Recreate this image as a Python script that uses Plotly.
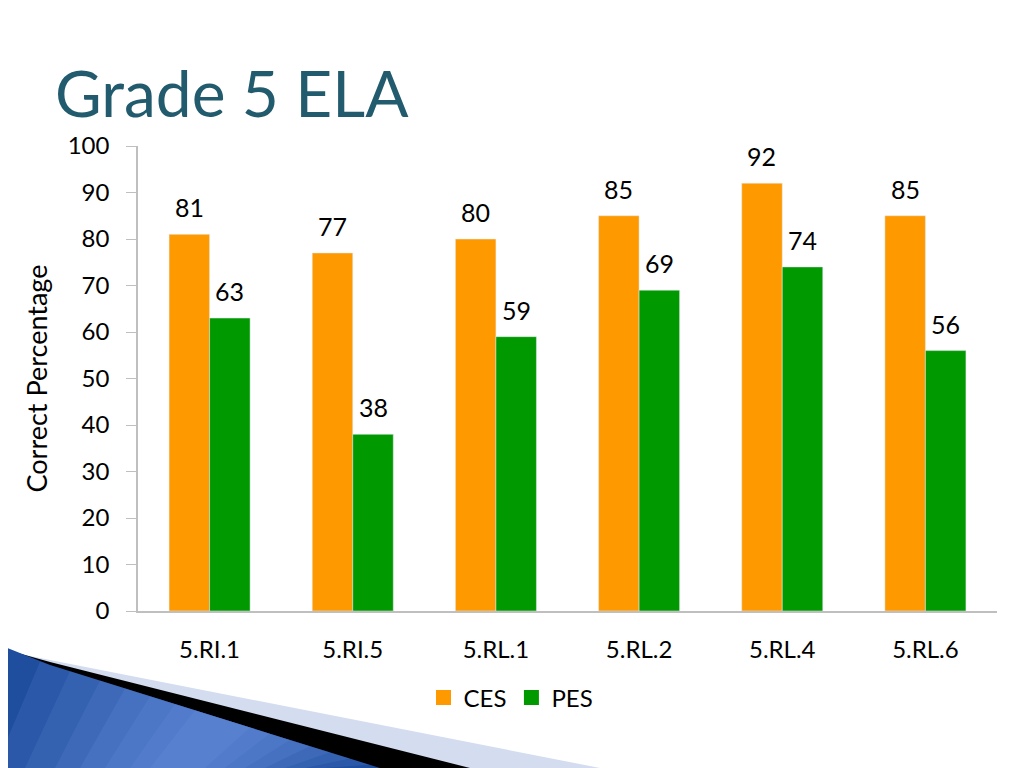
import plotly.graph_objects as go

# Datos del gráfico
estandares = ["5.RI.1", "5.RI.5", "5.RL.1", "5.RL.2", "5.RL.4", "5.RL.6"]
ces = [81, 77, 80, 85, 92, 85]
pes = [63, 38, 59, 69, 74, 56]

fuente = "Lato"
naranja = "#FF9900"
verde = "#009900"

# La página tiene 8 px de margen en el body; se trabaja en píxeles de la ventana
# y se resta ese desplazamiento
desp = 8
ancho, alto = 1024 - desp, 768 - desp
x0, x1, y0, y1 = 138, 997, 146, 611   # área del gráfico (píxeles de ventana)
hueco = 0.434                         # bargap
medio_ancho = (1 - hueco) / 4         # desplazamiento del centro de cada barra


def px_a_paper(px, py):
    return (px - x0) / (x1 - x0), (y1 - py) / (y1 - y0)


def trayectoria(puntos):
    pts = [px_a_paper(a, b) for a, b in puntos]
    return "M " + " L ".join(f"{a:.4f},{b:.4f}" for a, b in pts) + " Z"


fig = go.Figure()

fig.add_trace(go.Bar(x=estandares, y=ces, name="CES", marker_color=naranja, showlegend=False))
fig.add_trace(go.Bar(x=estandares, y=pes, name="PES", marker_color=verde, showlegend=False))

# Etiquetas de datos sobre cada barra
for serie, lado in [(ces, -1), (pes, 1)]:
    for i, v in enumerate(serie):
        fig.add_annotation(
            x=i + lado * medio_ancho, y=v, xref="x", yref="y",
            text=str(v), showarrow=False, yanchor="bottom", yshift=10,
            font=dict(size=25, color="black", family=fuente)
        )

# Leyenda con cuadrados más grandes
for nombre, color in [("CES", naranja), ("PES", verde)]:
    fig.add_trace(go.Scatter(
        x=[None], y=[None], mode="markers", name=nombre,
        marker=dict(symbol="square", size=15, color=color)
    ))

# Decoración de la esquina inferior izquierda (estilo diapositiva)
def top_azul(x):
    return 665 + 0.312 * (x - 50)


formas = [
    dict(puntos=[(0, 650), (50, 660), (600, 768), (0, 768)], color="#D3DDEF", op=1),
    dict(puntos=[(0, 648), (50, 662), (470, 768), (0, 768)], color="#000000", op=1),
    dict(puntos=[(0, 645), (50, 665), (380, 768), (0, 768)], color="#1F4E9E", op=1),
]
# brillo del degradado azul
for a, b in [(40, 370), (70, 350), (100, 330), (125, 310), (150, 290), (175, 270), (195, 250)]:
    formas.append(dict(puntos=[(a, top_azul(a)), (b, top_azul(b)), (b - 45, 768), (a - 45, 768)],
                       color="#7AA6EE", op=0.13))

for f in formas:
    fig.add_shape(type="path", xref="paper", yref="paper",
                  path=trayectoria(f["puntos"]), opacity=f["op"],
                  fillcolor=f["color"], line=dict(width=0), layer="below")

fig.add_annotation(
    text="Grade 5 ELA", xref="paper", yref="paper",
    x=px_a_paper(53, 0)[0], y=px_a_paper(0, 93)[1],
    xanchor="left", yanchor="middle", showarrow=False,
    font=dict(family=fuente, size=64, color="#215B6D")
)

fig.update_layout(
    width=ancho, height=alto,
    margin=dict(l=x0 - desp, r=ancho - (x1 - desp), t=y0 - desp, b=alto - (y1 - desp)),
    paper_bgcolor="white", plot_bgcolor="white",
    barmode="group", bargap=hueco, bargroupgap=0,
    font=dict(family=fuente, size=24, color="black"),
    showlegend=True,
    legend=dict(orientation="h", x=px_a_paper(511, 0)[0], xanchor="center",
                y=px_a_paper(0, 698)[1], yanchor="middle",
                font=dict(size=24, family=fuente), itemwidth=30),
    xaxis=dict(showline=True, linecolor="#BFBFBF", linewidth=1.5,
               ticks="", tickfont=dict(size=24), ticklabelstandoff=16),
    yaxis=dict(range=[0, 100], dtick=10, showgrid=False, zeroline=False,
               showline=True, linecolor="#BFBFBF", linewidth=1.5,
               ticks="outside", ticklen=10, tickcolor="#BFBFBF",
               tickfont=dict(size=24), ticklabelstandoff=12,
               title=dict(text="Correct Percentage", font=dict(size=27), standoff=12)),
)

fig.write_html("out.html")
